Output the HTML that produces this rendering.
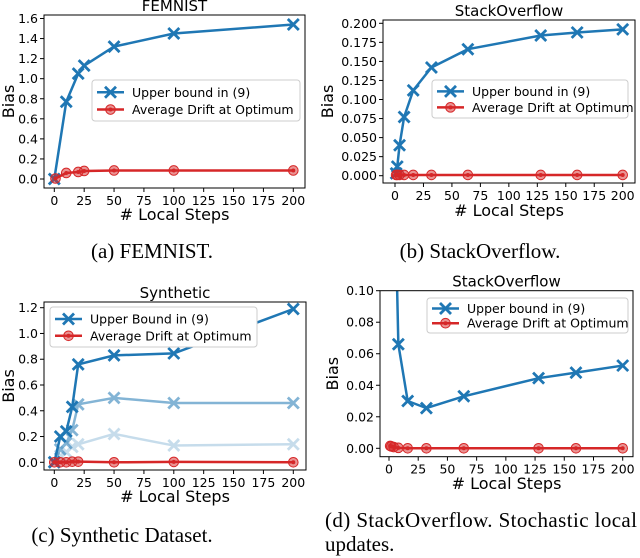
<!DOCTYPE html>
<html><head><meta charset="utf-8"><style>
body{margin:0;background:#fff;width:640px;height:558px;overflow:hidden}
svg{display:block}
text{font-family:"DejaVu Sans","Liberation Sans",sans-serif;fill:#000}
.cap{font-family:"Liberation Serif",serif;font-size:21px}
</style></head><body>
<svg id="fig" width="640" height="558"></svg>
<script>
// ---- data ----
const aSteps=[0,10,20,25,50,100,200];
const aUpper=[0,0.77,1.05,1.13,1.32,1.45,1.54];
const aRedSteps=[1,10,20,25,50,100,200];
const aDrift=[0.005,0.06,0.07,0.08,0.085,0.085,0.085];
const aYTicks=[0,0.2,0.4,0.6,0.8,1.0,1.2,1.4,1.6];
const aYLabels=["0.0","0.2","0.4","0.6","0.8","1.0","1.2","1.4","1.6"];

const bSteps=[1,2,4,8,16,32,64,128,160,200];
const bUpper=[0.003,0.012,0.04,0.077,0.112,0.142,0.166,0.184,0.188,0.192];
const bDrift=[0.001,0.001,0.001,0.001,0.001,0.001,0.001,0.001,0.001,0.001];
const bYTicks=[0,0.025,0.05,0.075,0.1,0.125,0.15,0.175,0.2];
const bYLabels=["0.000","0.025","0.050","0.075","0.100","0.125","0.150","0.175","0.200"];

const cSteps=[0,5,10,15,20,50,100,200];
const cUpper=[0,0.2,0.24,0.43,0.76,0.83,0.845,1.19];
const cUpperMid=[0,0.1,0.15,0.25,0.45,0.5,0.46,0.46];
const cUpperLow=[0,0.05,0.08,0.12,0.14,0.22,0.13,0.14];
const cDrift=[0,0,0,0.005,0.005,0,0.003,0];
const cYTicks=[0,0.2,0.4,0.6,0.8,1.0,1.2];
const cYLabels=["0.0","0.2","0.4","0.6","0.8","1.0","1.2"];

const dSteps=[1,2,4,8,16,32,64,128,160,200];
const dUpper=[0.5,0.3,0.2,0.066,0.030,0.0255,0.033,0.0445,0.048,0.0525];
const dDrift=[0.0015,0.0012,0.0008,0.0003,0,0,0,0,0,0];
const dYTicks=[0,0.02,0.04,0.06,0.08,0.1];
const dYLabels=["0.00","0.02","0.04","0.06","0.08","0.10"];

const xTicks=[0,25,50,75,100,125,150,175,200];
const xLabels=["0","25","50","75","100","125","150","175","200"];

const NS="http://www.w3.org/2000/svg";
const svg=document.getElementById('fig');
function mk(tag,attrs,parent,txt){const e=document.createElementNS(NS,tag);for(const k in attrs)e.setAttribute(k,attrs[k]);if(txt!==undefined)e.textContent=txt;(parent||svg).appendChild(e);return e;}

function panel(id,cfg){
  const g=mk('g',{});
  
  
  const sx=v=>cfg.x0+(v-0)/200*(cfg.x200-cfg.x0);
  const sy=v=>cfg.yb+(v-cfg.ymin)/(cfg.ymax-cfg.ymin)*(cfg.yt-cfg.yb);
  const clip=mk('clipPath',{id:'clip-'+id},g);
  mk('rect',{x:cfg.L,y:cfg.T,width:cfg.R-cfg.L,height:cfg.B-cfg.T},clip);
  cfg.yTicks.forEach((t,i)=>{const y=sy(t);
    mk('line',{x1:cfg.L-4,x2:cfg.L,y1:y,y2:y,stroke:'#000','stroke-width':1},g);
    const tl=mk('text',{x:cfg.L-6,y:y+4.5,'font-size':12.5,'text-anchor':'end'},g,cfg.yLabels[i]);
    
    
  });
  xTicks.forEach((t,i)=>{const x=sx(t);
    mk('line',{x1:x,x2:x,y1:cfg.B,y2:cfg.B+4,stroke:'#000','stroke-width':1},g);
    const tl=mk('text',{x:x,y:cfg.B+17,'font-size':12.5,'text-anchor':'middle'},g,xLabels[i]);
    
    
  });
  const pg=mk('g',{'clip-path':'url(#clip-'+id+')'},g);
  function series(xs,ys,color,op,type,name){
    const s=mk('g',{opacity:op},pg);
    
    
    mk('polyline',{points:xs.map((x,i)=>sx(x)+','+sy(ys[i])).join(' '),fill:'none',stroke:color,'stroke-width':2.5},s);
    xs.forEach((x,i)=>{const px=sx(x),py=sy(ys[i]);
      if(type==='x'){const r=5.5;
        mk('path',{d:`M${px-r},${py-r}L${px+r},${py+r}M${px-r},${py+r}L${px+r},${py-r}`,stroke:color,'stroke-width':2.8,fill:'none'},s);
      } else {
        mk('circle',{cx:px,cy:py,r:4.8,fill:color,'fill-opacity':0.5,stroke:color,'stroke-width':1},s);
        mk('circle',{cx:px,cy:py,r:2,fill:color},s);
      }});
  }
  cfg.series.forEach(s=>series(s[0],s[1],s[2],s[3],s[4],s[5]));
  mk('rect',{x:cfg.L,y:cfg.T,width:cfg.R-cfg.L,height:cfg.B-cfg.T,fill:'none',stroke:'#000','stroke-width':1},g);
  const tt=mk('text',{x:(cfg.L+cfg.R)/2,y:cfg.T-4,'font-size':15,'text-anchor':'middle'},g,cfg.title);
  
  
  const xl=mk('text',{x:(cfg.L+cfg.R)/2,y:cfg.xlY,'font-size':16,'text-anchor':'middle'},g,'# Local Steps');
  
  
  const yl=mk('text',{x:0,y:0,'font-size':16,'text-anchor':'middle',transform:`translate(${cfg.ylX},${(cfg.T+cfg.B)/2}) rotate(-90)`},g,'Bias');
  
  
  const lg=mk('g',{},g);
  
  
  const [lx,ly,lw,lh]=cfg.leg;
  mk('rect',{x:lx,y:ly,width:lw,height:lh,fill:'#fff',stroke:'#ccc','stroke-width':1,rx:3},lg);
  const r1=ly+lh*0.3,r2=ly+lh*0.72;
  mk('line',{x1:lx+5,x2:lx+32,y1:r1,y2:r1,stroke:'#1f77b4','stroke-width':2.5},lg);
  const cx=lx+18.5;
  mk('path',{d:`M${cx-5.5},${r1-5.5}L${cx+5.5},${r1+5.5}M${cx-5.5},${r1+5.5}L${cx+5.5},${r1-5.5}`,stroke:'#1f77b4','stroke-width':2.8},lg);
  mk('line',{x1:lx+5,x2:lx+32,y1:r2,y2:r2,stroke:'#d62728','stroke-width':2.5},lg);
  mk('circle',{cx:cx,cy:r2,r:4.8,fill:'#d62728','fill-opacity':0.5,stroke:'#d62728'},lg);
  mk('circle',{cx:cx,cy:r2,r:2,fill:'#d62728'},lg);
  const e1=mk('text',{x:lx+40,y:r1+4.5,'font-size':12.5},lg,cfg.legText);
  
  
  const e2=mk('text',{x:lx+40,y:r2+4.5,'font-size':12.5},lg,'Average Drift at Optimum');
  
  
}

const B='#1f77b4',R='#d62728';
panel('femnist',{L:44,R:305,T:15,B:188,x0:54.3,x200:293.3,ymin:0,ymax:1.6,yb:179,yt:18.5,
  yTicks:aYTicks,yLabels:aYLabels,title:'FEMNIST',xlY:220,ylX:14,leg:[92,80,208,41],legText:'Upper bound in (9)',
  series:[[aSteps,aUpper,B,1,'x','series-upper-bound'],[aRedSteps,aDrift,R,1,'o','series-average-drift']]});
panel('stackoverflow',{L:383,R:635,T:20,B:183,x0:395,x200:622.7,ymin:0,ymax:0.2,yb:175.7,yt:23.3,
  yTicks:bYTicks,yLabels:bYLabels,title:'StackOverflow',xlY:216,ylX:333,leg:[432,80,196,38],legText:'Upper bound in (9)',
  series:[[bSteps,bUpper,B,1,'x','series-upper-bound'],[bSteps,bDrift,R,1,'o','series-average-drift']]});
panel('synthetic',{L:44,R:306,T:302,B:470,x0:54.3,x200:293.3,ymin:0,ymax:1.2,yb:462.3,yt:307.7,
  yTicks:cYTicks,yLabels:cYLabels,title:'Synthetic',xlY:502,ylX:14,leg:[50,307,207,40],legText:'Upper Bound in (9)',
  series:[[cSteps,cUpperLow,B,0.25,'x','series-upper-bound-low'],[cSteps,cUpperMid,B,0.55,'x','series-upper-bound-mid'],[cSteps,cUpper,B,1,'x','series-upper-bound'],[cSteps,cDrift,R,1,'o','series-average-drift']]});
panel('stackoverflow-stochastic',{L:380,R:633,T:290.7,B:456.7,x0:389,x200:622.7,ymin:0,ymax:0.1,yb:448.3,yt:290.7,
  yTicks:dYTicks,yLabels:dYLabels,title:'StackOverflow',xlY:489,ylX:338,leg:[427,298,201,35],legText:'Upper bound in (9)',
  series:[[dSteps,dUpper,B,1,'x','series-upper-bound'],[dSteps,dDrift,R,1,'o','series-average-drift']]});

const caps=[
  {t:'(a) FEMNIST.',x:152,y:258,a:'middle',n:'caption-a'},
  {t:'(b) StackOverflow.',x:480,y:258,a:'middle',n:'caption-b'},
  {t:'(c) Synthetic Dataset.',x:122,y:542,a:'middle',n:'caption-c'},
  {t:'(d) StackOverflow.  Stochastic local',x:325,y:527,a:'start',n:'caption-d',len:312},
  {t:'updates.',x:325,y:551,a:'start',n:'caption-d-line2'}];
caps.forEach(c=>{
  const attrs={x:c.x,y:c.y,'text-anchor':c.a,class:'cap'};
  if(c.len){attrs.textLength=c.len;attrs.lengthAdjust='spacing';}
  const t=mk('text',attrs,svg,c.t);
  
  
});
</script>
</body></html>
